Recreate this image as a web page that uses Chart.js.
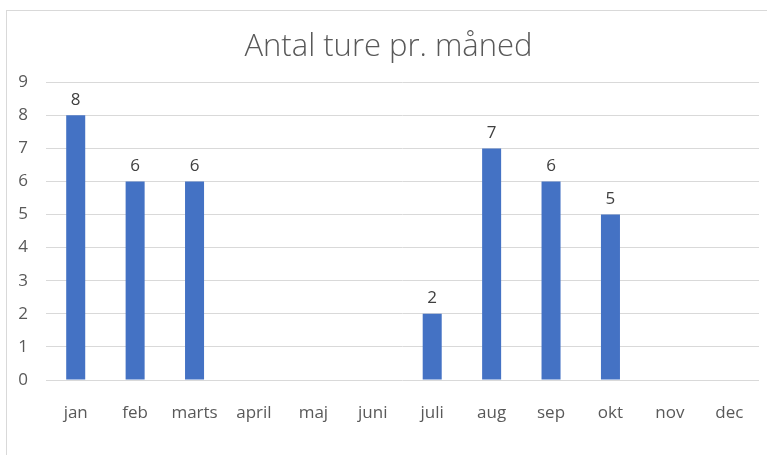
<!DOCTYPE html>
<html>
<head>
<meta charset="utf-8">
<script src="https://cdn.jsdelivr.net/npm/chart.js@4"></script>
<style>
html,body{margin:0;padding:0;background:#fff;}
#wrap{position:relative;width:767px;height:455px;overflow:hidden;}
#frame{position:absolute;left:6px;top:10px;width:780px;height:470px;border:1px solid #d9d9d9;box-sizing:border-box;pointer-events:none;}
canvas{position:absolute;left:0;top:0;}
</style>
</head>
<body>
<div id="wrap">
<canvas id="c" width="767" height="455"></canvas>
<div id="frame"></div>
</div>
<script>
const chartTitle = "Antal ture pr. måned";
const months = ["jan","feb","marts","april","maj","juni","juli","aug","sep","okt","nov","dec"];
const trips = [8,6,6,null,null,null,2,7,6,5,null,null];
const yTicks = [0,1,2,3,4,5,6,7,8,9];

const FONT = "'Open Sans', 'Noto Sans', sans-serif";

const valueLabels = {
  id: 'valueLabels',
  afterDatasetsDraw(chart) {
    const ctx = chart.ctx;
    const meta = chart.getDatasetMeta(0);
    ctx.save();
    ctx.font = "17px " + FONT;
    ctx.fillStyle = "#404040";
    ctx.textAlign = "center";
    ctx.textBaseline = "bottom";
    meta.data.forEach((bar, i) => {
      const v = chart.data.datasets[0].data[i];
      if (v === null || v === undefined) return;
      ctx.fillText(String(v), bar.x, bar.y - 7);
    });
    ctx.restore();
  }
};

new Chart(document.getElementById('c'), {
  type: 'bar',
  data: {
    labels: months,
    datasets: [{
      data: trips,
      backgroundColor: '#4472C4',
      borderWidth: 0,
      categoryPercentage: 1.0,
      barPercentage: 0.32
    }]
  },
  options: {
    responsive: false,
    animation: false,
    devicePixelRatio: 1,
    layout: { padding: { left: 18, right: 8, top: 0, bottom: 0 } },
    plugins: {
      legend: { display: false },
      tooltip: { enabled: false },
      title: {
        display: true,
        text: chartTitle,
        color: '#595959',
        font: { family: FONT, size: 31, weight: 300, lineHeight: 1.2 },
        padding: { top: 29, bottom: 16 }
      }
    },
    scales: {
      x: {
        grid: { display: false },
        border: { display: false },
        ticks: { color: '#595959', font: { family: FONT, size: 17 }, padding: 15, maxRotation: 0, autoSkip: false },
        afterFit(s) { s.height = 75; }
      },
      y: {
        min: 0, max: 9,
        afterBuildTicks(s) { s.ticks = yTicks.map(v => ({ value: v })); },
        grid: { color: '#d9d9d9', lineWidth: 1, drawTicks: false },
        border: { display: false },
        ticks: { color: '#595959', font: { family: FONT, size: 17 }, padding: 18 },
        afterFit(s) { s.width = 28; }
      }
    }
  },
  plugins: [valueLabels]
});
</script>
</body>
</html>
